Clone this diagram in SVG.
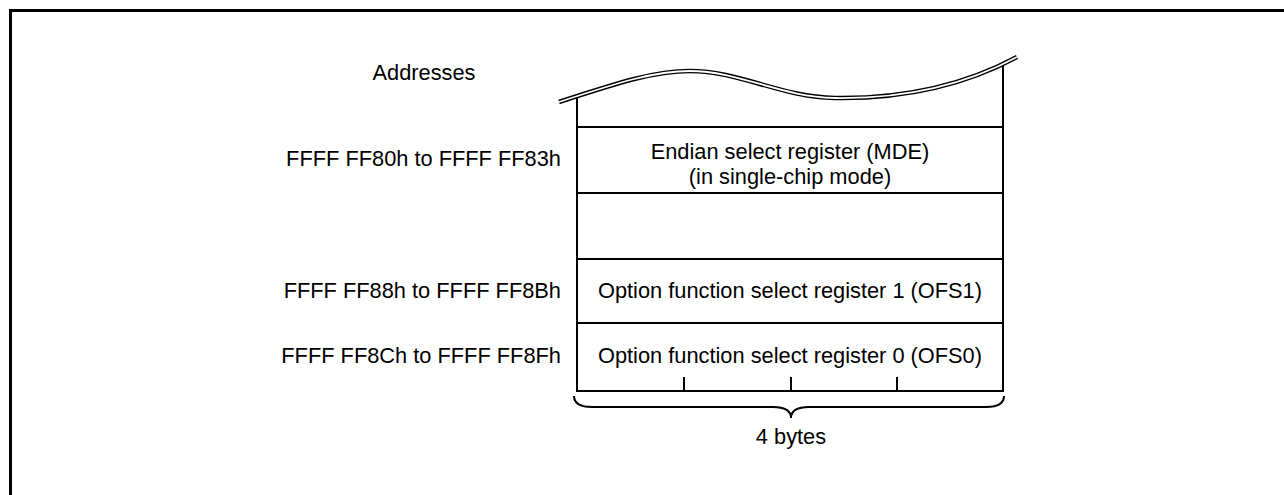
<svg xmlns="http://www.w3.org/2000/svg" width="1284" height="495" viewBox="0 0 1284 495">
<style>
text{font-family:"Liberation Sans",Arial,sans-serif;font-size:21.8px;fill:#000}
.c{text-anchor:middle}
.r{text-anchor:end}
.ln{stroke:#000;stroke-width:2;fill:none}
</style>
<rect width="1284" height="495" fill="#fff"/>
<g id="frame">
<path d="M10.5,495 V10.5 H1284" fill="none" stroke="#000" stroke-width="3"/>
</g>
<g id="labels">
<text class="c" x="424" y="80">Addresses</text>
<text class="r" x="561" y="166">FFFF FF80h to FFFF FF83h</text>
<text class="r" x="561" y="298">FFFF FF88h to FFFF FF8Bh</text>
<text class="r" x="561" y="363">FFFF FF8Ch to FFFF FF8Fh</text>
</g>
<g id="memory">
<path class="ln" d="M577,95 V391 H1003 V64"/>
<path class="ln" d="M577,127 H1003 M577,193 H1003 M577,259 H1003 M577,323 H1003"/>
<path class="ln" d="M684,377 V391 M791,377 V391 M897,377 V391"/>
<path d="M559,102 C620,82 655,71 690,71 C740,71 780,97 835,98 C905,99 965,85 1017,57" fill="none" stroke="#000" stroke-width="4.5"/>
<path d="M559,102 C620,82 655,71 690,71 C740,71 780,97 835,98 C905,99 965,85 1017,57" fill="none" stroke="#fff" stroke-width="1.8"/>
</g>
<g id="node-mde">
<text class="c" x="790" y="159">Endian select register (MDE)</text>
<text class="c" x="790" y="183.5">(in single-chip mode)</text>
</g>
<g id="node-ofs1">
<text class="c" x="790" y="298">Option function select register 1 (OFS1)</text>
</g>
<g id="node-ofs0">
<text class="c" x="790" y="363">Option function select register 0 (OFS0)</text>
</g>
<g id="brace">
<path class="ln" d="M574,396 Q574,407 592,407 H773 Q791,407 791,418 Q791,407 809,407 H986 Q1004,407 1004,396"/>
<text class="c" x="791" y="444">4 bytes</text>
</g>
</svg>
